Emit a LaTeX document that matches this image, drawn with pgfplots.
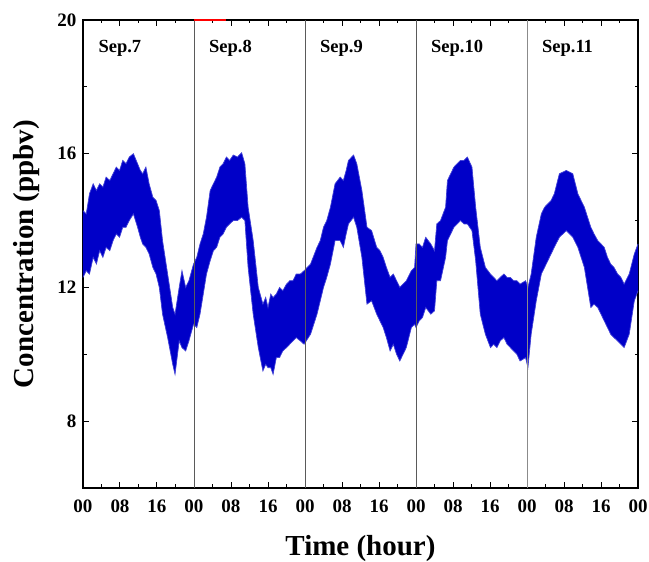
\documentclass[border=0pt]{standalone}
\usepackage{fontspec}
\setmainfont{Liberation Serif}
\usepackage{pgfplots}
\usepackage{pgfplotstable}
\pgfplotsset{compat=1.18}
\usepgfplotslibrary{fillbetween}
\definecolor{bandblue}{RGB}{0,0,200}
\definecolor{daygrey}{RGB}{90,90,90}

% envelope of the measured concentration (upper / lower edge of the band)
\pgfplotstableread{
h up lo
0.0 14.3 12.3
0.7 14.2 12.5
1.4 14.8 12.4
2.2 15.1 12.9
2.9 14.9 12.7
3.6 15.1 13.1
4.3 15.0 12.9
5.0 15.3 13.2
5.8 15.2 13.1
6.5 15.4 13.4
7.2 15.6 13.6
7.9 15.5 13.5
8.6 15.8 13.8
9.3 15.7 13.8
10.0 15.9 14.0
10.9 16.0 14.2
11.8 15.7 13.8
12.4 15.5 13.5
12.9 15.4 13.3
13.6 15.6 13.2
14.3 15.1 13.0
15.1 14.7 12.6
15.8 14.6 12.4
16.5 14.3 12.0
17.2 13.4 11.2
18.3 12.4 10.5
19.4 11.4 9.7
19.9 11.2 9.4
20.8 12.0 10.4
21.4 12.5 10.2
22.2 12.0 10.1
22.9 12.2 10.4
23.9 12.7 10.9
24.6 12.9 10.8
25.3 13.3 11.2
26.0 13.6 11.8
26.7 14.1 12.4
27.5 14.9 12.8
28.2 15.1 13.1
28.9 15.3 13.2
29.6 15.6 13.5
30.3 15.7 13.6
31.0 15.9 13.8
31.7 15.8 13.9
32.5 15.96 14.0
33.4 15.9 14.0
34.3 16.03 14.1
35.0 15.7 14.0
35.7 14.4 12.6
36.8 13.4 11.2
37.9 12.0 10.2
38.9 11.5 9.5
39.5 11.7 9.7
40.0 11.4 9.6
40.6 11.8 9.6
41.1 11.7 9.4
41.8 11.8 9.9
42.5 12.0 9.9
43.2 11.9 10.1
44.0 12.1 10.2
44.7 12.2 10.3
45.4 12.2 10.4
46.1 12.4 10.5
47.0 12.4 10.4
47.8 12.5 10.3
49.2 12.7 10.6
50.6 13.2 11.2
51.3 13.4 11.6
52.0 13.8 12.0
52.7 14.0 12.3
53.5 14.4 12.7
54.5 15.1 13.4
55.6 15.3 13.4
56.3 15.2 13.2
56.9 15.5 13.6
57.4 15.8 13.9
58.5 15.96 14.1
59.2 15.7 13.8
60.3 14.9 12.9
61.4 13.8 11.5
62.4 13.7 11.6
63.5 13.2 11.2
64.2 13.1 11.0
64.9 12.9 10.8
65.6 12.6 10.5
66.4 12.3 10.1
67.1 12.4 10.3
67.8 12.2 10.0
68.5 12.0 9.8
69.2 12.1 10.0
69.9 12.2 10.2
71.0 12.5 10.8
71.7 12.6 10.9
72.0 13.3 10.8
72.7 13.3 11.0
73.4 13.2 11.1
74.1 13.5 11.4
75.2 13.3 11.2
76.0 13.1 11.3
76.5 13.9 12.2
77.3 14.0 12.2
78.4 14.4 12.9
78.8 15.2 13.4
79.5 15.4 13.6
80.2 15.6 13.8
80.9 15.7 13.9
81.6 15.8 14.0
82.4 15.8 13.9
83.1 15.9 13.9
84.1 15.6 13.7
84.9 14.4 12.8
85.9 13.2 11.2
87.0 12.6 10.6
88.1 12.4 10.2
88.8 12.3 10.3
89.5 12.2 10.2
90.2 12.3 10.4
91.0 12.4 10.5
91.7 12.3 10.3
92.4 12.3 10.2
93.1 12.2 10.1
93.8 12.2 10.0
94.5 12.1 9.8
95.7 12.2 9.9
96.2 12.0 9.6
96.9 12.4 10.6
98.0 13.5 11.6
99.1 14.2 12.4
99.8 14.4 12.6
100.5 14.5 12.8
101.2 14.6 13.0
101.9 14.8 13.2
103.0 15.4 13.5
104.5 15.5 13.7
105.9 15.4 13.5
107.0 14.8 13.2
107.7 14.6 12.9
108.4 14.4 12.6
109.1 14.1 12.0
109.8 13.8 11.4
110.5 13.6 11.5
111.3 13.4 11.4
112.0 13.3 11.2
112.7 13.2 11.0
113.4 12.9 10.8
114.1 12.7 10.6
114.8 12.6 10.5
115.6 12.4 10.4
116.3 12.3 10.3
117.0 12.1 10.2
118.1 12.4 10.6
119.2 13.0 11.6
120.0 13.3 11.9
}\conc

\begin{document}
\begin{tikzpicture}
\begin{axis}[
  scale only axis, width=555pt, height=468pt,
  xmin=0, xmax=120, ymin=6, ymax=20,
  xtick={0,8,...,120},
  xticklabels={00,08,16,00,08,16,00,08,16,00,08,16,00,08,16,00},
  minor xtick={4,12,...,116},
  ytick={8,12,16,20}, yticklabels={8,12,16,20},
  minor ytick={10,14,18},
  tick align=inside, major tick length=6pt, minor tick length=3.5pt,
  tick style={black, line width=1pt},
  axis line style={line width=1.3pt},
  tick label style={font=\fontsize{19}{22}\selectfont\bfseries},
  xticklabel style={yshift=-8pt},
  yticklabel style={xshift=-3pt},
  xlabel={Time (hour)}, ylabel={Concentration (ppbv)},
  every axis x label/.style={at={(axis description cs:0.5,-0.1432)}, anchor=base,
    font=\fontsize{29}{34}\selectfont\bfseries},
  every axis y label/.style={at={(axis description cs:-0.09,0.5)}, anchor=base, rotate=90,
    font=\fontsize{29}{34}\selectfont\bfseries},
  clip=false,
]
  \addplot[draw=none, name path=upper] table[x=h, y=up] {\conc};
  \addplot[draw=none, name path=lower] table[x=h, y=lo] {\conc};
  \addplot[bandblue] fill between[of=upper and lower];
  \addplot[bandblue!75, line width=0.7pt] table[x=h, y=up] {\conc};
  \addplot[bandblue!75, line width=0.7pt] table[x=h, y=lo] {\conc};

  \addplot[daygrey, line width=0.8pt] coordinates {(24,6) (24,20)};
  \addplot[daygrey, line width=0.8pt] coordinates {(48,6) (48,20)};
  \addplot[daygrey, line width=0.8pt] coordinates {(72,6) (72,20)};
  \addplot[daygrey!70, line width=0.8pt] coordinates {(96,6) (96,20)};
  \addplot[red, line width=1.2pt] coordinates {(24.1,20) (31,20)};

  \node[anchor=west, font=\fontsize{18.5}{22}\selectfont\bfseries] at (axis cs:2.6,19.15) {Sep.7};
  \node[anchor=west, font=\fontsize{18.5}{22}\selectfont\bfseries] at (axis cs:26.5,19.15) {Sep.8};
  \node[anchor=west, font=\fontsize{18.5}{22}\selectfont\bfseries] at (axis cs:50.5,19.15) {Sep.9};
  \node[anchor=west, font=\fontsize{18.5}{22}\selectfont\bfseries] at (axis cs:74.5,19.15) {Sep.10};
  \node[anchor=west, font=\fontsize{18.5}{22}\selectfont\bfseries] at (axis cs:98.5,19.15) {Sep.11};
\end{axis}
\pgfresetboundingbox
\path[use as bounding box] ([shift={(-83pt,-74pt)}]current axis.south west)
  rectangle ([shift={(11pt,20pt)}]current axis.north east);
\end{tikzpicture}
\end{document}
